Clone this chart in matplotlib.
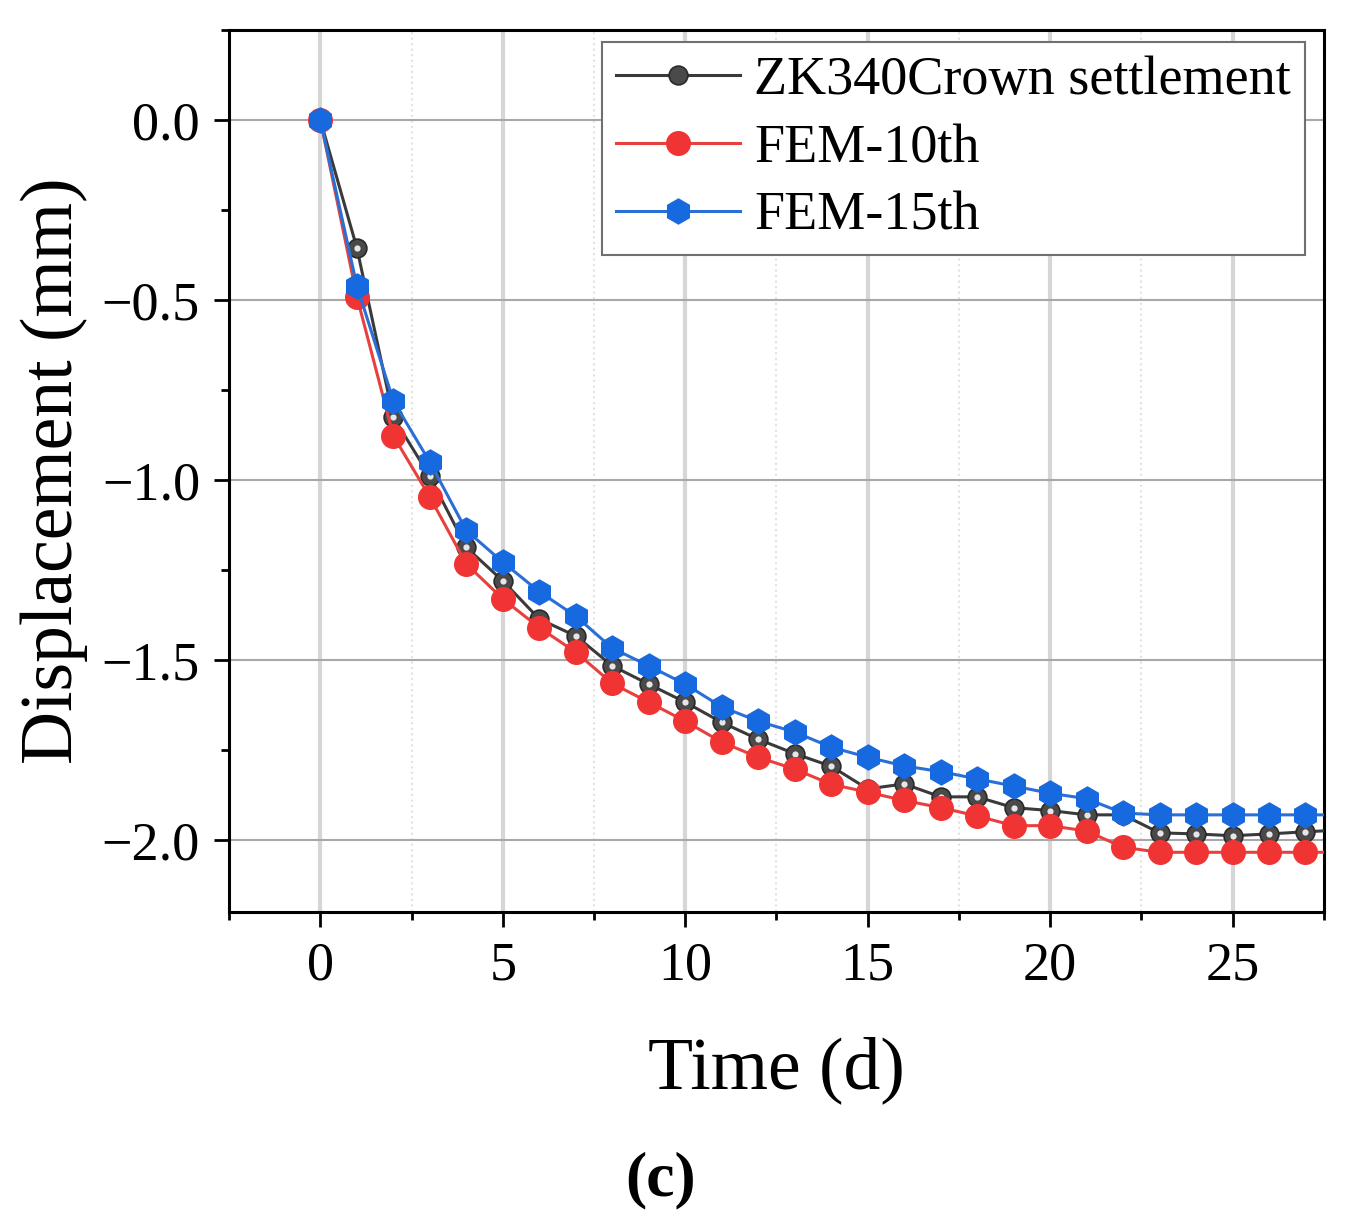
import matplotlib

matplotlib.use("Agg")
import matplotlib.pyplot as plt
from matplotlib.ticker import MultipleLocator

# time in days (point at 28 lies past the axis edge, as in the source figure)
days = list(range(29))

zk340 = [0.0, -0.355, -0.825, -0.99, -1.187, -1.28, -1.386, -1.433, -1.516, -1.567,
         -1.617, -1.673, -1.72, -1.76, -1.795, -1.858, -1.844, -1.88, -1.88, -1.91,
         -1.918, -1.93, -1.93, -1.98, -1.983, -1.988, -1.983, -1.977, -1.972]
fem10 = [0.0, -0.49, -0.877, -1.047, -1.233, -1.33, -1.41, -1.478, -1.565, -1.617,
         -1.67, -1.728, -1.77, -1.803, -1.845, -1.867, -1.89, -1.91, -1.933, -1.96,
         -1.96, -1.975, -2.02, -2.034, -2.034, -2.034, -2.034, -2.034, -2.034]
fem15 = [0.0, -0.46, -0.78, -0.95, -1.14, -1.228, -1.31, -1.378, -1.467, -1.516,
         -1.567, -1.63, -1.67, -1.70, -1.742, -1.77, -1.794, -1.81, -1.83, -1.85,
         -1.87, -1.885, -1.925, -1.93, -1.93, -1.93, -1.93, -1.93, -1.93]

labels = ["ZK340Crown settlement", "FEM-10th", "FEM-15th"]

plt.rcParams["font.family"] = ["Liberation Serif", "DejaVu Serif"]

fig = plt.figure(figsize=(13.48, 12.30), dpi=100)
ax = fig.add_axes([0.170, 0.2585, 0.812, 0.717])

ax.plot(days, zk340, color="#3a3a3a", lw=2.2, marker="o", ms=13.5,
        mfc="#4a4a4a", mec="#2a2a2a", mew=1.2, label=labels[0], zorder=3)
ax.plot(days, zk340, ls="none", marker="o", ms=4.5, mfc="#e6e6e6", mec="none", zorder=3.1)
ax.plot(days, fem10, color="#e8403c", lw=2.2, marker="o", ms=17,
        mfc="#f03434", mec="#f03434", label=labels[1], zorder=4)
ax.plot(days, fem15, color="#2a6fd6", lw=2.2, marker="h", ms=18,
        mfc="#1769e0", mec="#1769e0", label=labels[2], zorder=5)

ax.set_xlim(-2.5, 27.5)
ax.set_ylim(-2.2, 0.25)
ax.xaxis.set_major_locator(MultipleLocator(5))
ax.xaxis.set_minor_locator(MultipleLocator(2.5))
ax.yaxis.set_major_locator(MultipleLocator(0.5))
ax.yaxis.set_minor_locator(MultipleLocator(0.25))

ax.grid(True, which="major", axis="x", color="#d6d6d6", lw=3.0, zorder=0)
ax.grid(True, which="major", axis="y", color="#a8a8a8", lw=1.5, zorder=0)
ax.grid(True, which="minor", axis="x", color="#e2e2e2", lw=1.5, ls=":", zorder=0)
ax.set_axisbelow(True)

for side in ("left", "bottom", "top", "right"):
    ax.spines[side].set_linewidth(2.2)
    ax.spines[side].set_color("black")

ax.tick_params(which="major", direction="out", length=11, width=2, labelsize=39,
               top=False, right=False, pad=10)
ax.tick_params(which="minor", direction="out", length=6, width=2,
               top=False, right=False)

ax.set_xlabel("Time (d)", fontsize=53, labelpad=32)
ax.set_ylabel("Displacement (mm)", fontsize=53, labelpad=10)

leg = ax.legend(loc="upper right", bbox_to_anchor=(0.9826, 0.9864), borderaxespad=0,
                fontsize=39, frameon=True, fancybox=False,
                edgecolor="#707070", framealpha=1.0, handlelength=2.3,
                handletextpad=0.26, labelspacing=0.32, borderpad=0.25)
leg.get_frame().set_linewidth(1.5)

fig.text(0.49, 0.04, "(c)", fontsize=46, fontweight="bold", ha="center", va="center")

fig.savefig("out.png", dpi=100)
plt.close(fig)
